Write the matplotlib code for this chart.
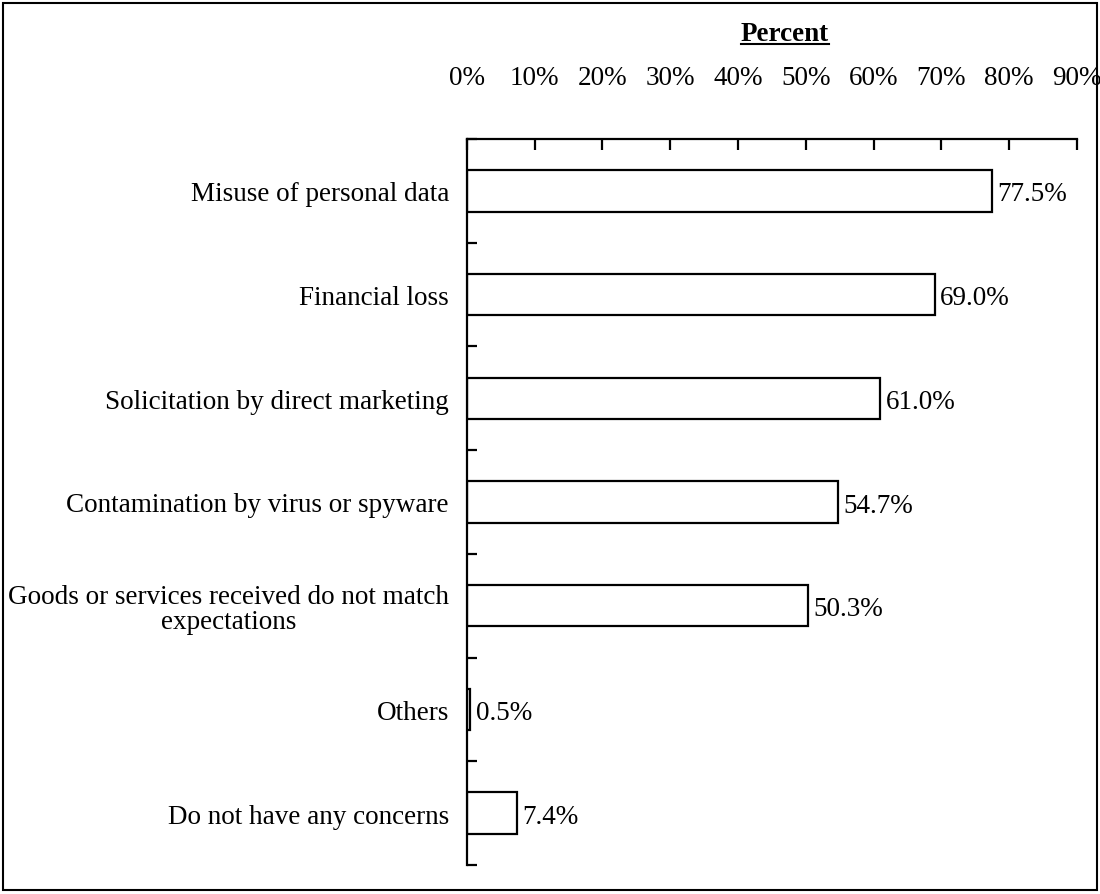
import matplotlib.pyplot as plt
import numpy as np
from matplotlib.patches import Rectangle
from matplotlib.lines import Line2D

plt.rcParams['font.family'] = ['Liberation Serif', 'DejaVu Serif']

categories = ['Misuse of personal data', 'Financial loss',
              'Solicitation by direct marketing',
              'Contamination by virus or spyware',
              'Goods or services received do not match\nexpectations',
              'Others', 'Do not have any concerns']
values = [77.5, 69.0, 61.0, 54.7, 50.3, 0.5, 7.4]
xticks = np.arange(0, 100, 10)

fs = 19.5

fig = plt.figure(figsize=(11, 8.95), dpi=100)
ax = fig.add_axes([0.4245, 0.0324, 0.979 - 0.4245, 0.8436 - 0.0324])

ypos = np.arange(len(categories))
ax.barh(ypos, values, height=0.4, color='white', edgecolor='black', linewidth=1.6)
for y, v in zip(ypos, values):
    ax.text(v + 0.8, y + 0.03, '{:.1f}%'.format(v), va='center', ha='left', fontsize=fs)

ax.set_xlim(0, 90)
ax.set_ylim(len(categories) - 0.5, -0.5)
ax.xaxis.tick_top()
ax.set_xticks(xticks)
ax.set_xticklabels(['{}%'.format(t) for t in xticks])
ax.tick_params(axis='x', direction='in', length=8, width=1.6, pad=35, labelsize=fs)

ax.set_yticks(ypos)
ax.set_yticklabels(categories, fontsize=fs, multialignment='center', linespacing=1.0)
ax.set_yticks(np.arange(len(categories) + 1) - 0.5, minor=True)
ax.tick_params(axis='y', which='major', length=0, pad=13)
ax.tick_params(axis='y', which='minor', direction='in', length=7, width=1.6)

for s in ['right', 'bottom']:
    ax.spines[s].set_visible(False)
for s in ['left', 'top']:
    ax.spines[s].set_linewidth(1.6)

# bold underlined heading
title = fig.text(0.7136, 0.9609, 'Percent', ha='center', va='center',
                 fontsize=fs, fontweight='bold')
fig.canvas.draw()
bb = title.get_window_extent().transformed(fig.transFigure.inverted())
fig.add_artist(Line2D([bb.x0, bb.x1], [bb.y0 + 0.003, bb.y0 + 0.003],
                      transform=fig.transFigure, color='black', linewidth=1.5))

# frame around the whole chart
fig.add_artist(Rectangle((0.003, 0.004), 0.994, 0.992, transform=fig.transFigure,
                         fill=False, edgecolor='black', linewidth=1.5))

fig.savefig('out.png', dpi=100)
